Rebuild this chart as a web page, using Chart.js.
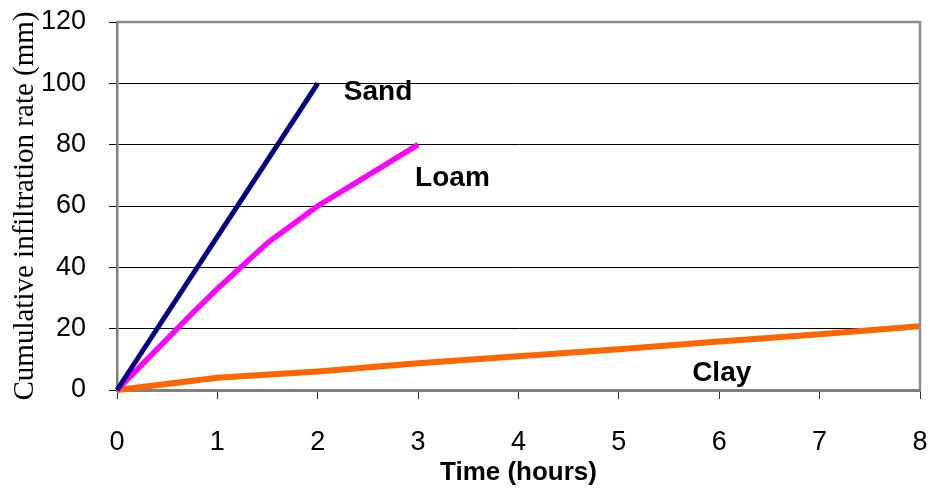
<!DOCTYPE html>
<html>
<head>
<meta charset="utf-8">
<script src="https://cdn.jsdelivr.net/npm/chart.js@4/dist/chart.umd.min.js"></script>
<style>
  html, body { margin: 0; padding: 0; background: #fff; }
  #wrap { width: 931px; height: 489px; position: relative; }
</style>
</head>
<body>
<div id="wrap"><canvas id="chart"></canvas></div>
<script>
  // infiltration curves: time in hours, cumulative depth in mm
  const sandTime = [0, 1, 2];
  const sandDepth = [0, 50, 100];

  const loamTime = [0, 0.75, 1, 1.5, 2, 2.5, 3];
  const loamDepth = [0, 25, 33, 48, 60, 70, 80];

  const clayTime = [0, 1, 2, 3, 4, 5, 6, 7, 8];
  const clayDepth = [0, 4, 6, 8.7, 11, 13.3, 15.8, 18.2, 20.8];

  const xTicks = [0, 1, 2, 3, 4, 5, 6, 7, 8];
  const yTicks = [0, 20, 40, 60, 80, 100, 120];

  // curve names written next to their lines (anchored in data units)
  const curveNames = ["Sand", "Loam", "Clay"];
  const nameTime = [2.26, 2.97, 5.73];
  const nameDepth = [97.2, 69.1, 5.5];

  const toPoints = (xs, ys) => xs.map((x, i) => ({ x: x, y: ys[i] }));

  const frameAndNames = {
    id: "frameAndNames",
    afterDatasetsDraw(chart) {
      const { ctx, chartArea: a, scales } = chart;
      ctx.save();
      ctx.strokeStyle = "#8c8c8c";
      ctx.lineWidth = 2.5;
      ctx.beginPath();
      ctx.moveTo(a.left, a.top);
      ctx.lineTo(a.right, a.top);
      ctx.lineTo(a.right, a.bottom);
      ctx.stroke();

      ctx.fillStyle = "#000";
      ctx.font = "bold 28px 'Liberation Sans', Arial, sans-serif";
      ctx.textAlign = "left";
      ctx.textBaseline = "middle";
      curveNames.forEach((name, i) => {
        ctx.fillText(name, scales.x.getPixelForValue(nameTime[i]), scales.y.getPixelForValue(nameDepth[i]));
      });
      ctx.restore();
    }
  };

  new Chart(document.getElementById("chart"), {
    type: "scatter",
    data: {
      datasets: [
        { label: "Sand", data: toPoints(sandTime, sandDepth), borderColor: "#000080", borderWidth: 5 },
        { label: "Loam", data: toPoints(loamTime, loamDepth), borderColor: "#ff00ff", borderWidth: 5.5 },
        { label: "Clay", data: toPoints(clayTime, clayDepth), borderColor: "#ff6600", borderWidth: 6 }
      ].map(d => Object.assign(d, { showLine: true, pointRadius: 0, tension: 0, fill: false, clip: 6 }))
    },
    options: {
      responsive: true,
      maintainAspectRatio: false,
      animation: false,
      layout: { padding: { left: 0, right: 11, top: 22, bottom: 0 } },
      plugins: {
        legend: { display: false },
        tooltip: { enabled: false }
      },
      scales: {
        x: {
          type: "linear",
          min: 0,
          max: 8,
          afterBuildTicks: (s) => { s.ticks = xTicks.map(v => ({ value: v })); },
          afterFit: (s) => { s.height = 99; s.paddingLeft = 0; s.paddingRight = 0; },
          ticks: {
            color: "#000",
            padding: 27,
            font: { family: "'Liberation Sans', Arial, sans-serif", size: 27 }
          },
          grid: {
            drawOnChartArea: false,
            drawTicks: true,
            tickLength: 9,
            tickColor: "#333"
          },
          border: { color: "#808080", width: 3 },
          title: {
            display: true,
            text: "Time (hours)",
            color: "#000",
            padding: { top: 0, bottom: 1 },
            font: { family: "'Liberation Sans', Arial, sans-serif", size: 26, weight: "bold" }
          }
        },
        y: {
          min: 0,
          max: 120,
          afterBuildTicks: (s) => { s.ticks = yTicks.map(v => ({ value: v })); },
          afterFit: (s) => { s.width = 117; s.paddingTop = 0; s.paddingBottom = 0; },
          ticks: {
            color: "#000",
            padding: 23,
            font: { family: "'Liberation Sans', Arial, sans-serif", size: 27 }
          },
          grid: {
            color: (c) => (c.tick && (c.tick.value === 0 || c.tick.value === 120)) ? "rgba(0,0,0,0)" : "#000",
            lineWidth: 1,
            drawTicks: true,
            tickLength: 8,
            tickColor: "#000"
          },
          border: { color: "#808080", width: 2.5 },
          title: {
            display: true,
            text: "Cumulative infiltration rate (mm)",
            color: "#000",
            padding: { top: 8, bottom: 0 },
            font: { family: "'Liberation Serif', 'Times New Roman', serif", size: 29 }
          }
        }
      }
    },
    plugins: [frameAndNames]
  });
</script>
</body>
</html>
